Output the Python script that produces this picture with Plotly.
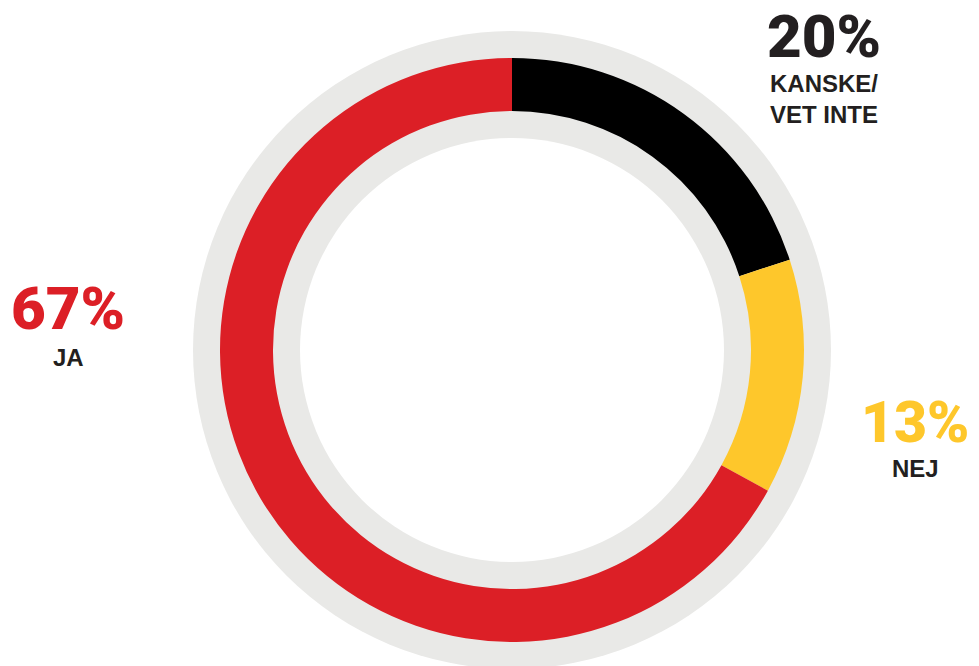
import plotly.graph_objects as go

# Survey answers, clockwise from 12 o'clock
labels = ["KANSKE/<br>VET INTE", "NEJ", "JA"]
values = [20, 13, 67]
colors = ["#000000", "#FEC72B", "#DC1F26"]
value_colors = ["#231F20", "#FEC72B", "#DC1F26"]

W, H = 979, 666
CX, CY = 512, 350          # ring centre in pixels
R_OUT, R_IN = 292, 239     # coloured ring
G_OUT, G_IN = 319, 212     # grey backing ring


def px(x):
    return x / W


def py(y):
    return 1 - y / H


fig = go.Figure()

fig.add_trace(go.Pie(
    labels=labels,
    values=values,
    marker=dict(colors=colors, line=dict(width=0)),
    sort=False,
    direction="clockwise",
    rotation=0,
    hole=R_IN / R_OUT,
    textinfo="none",
    hoverinfo="label+percent",
    showlegend=False,
    domain=dict(x=[px(CX - R_OUT), px(CX + R_OUT)],
                y=[py(CY + R_OUT), py(CY - R_OUT)]),
))

shapes = [
    dict(type="circle", xref="paper", yref="paper", layer="below",
         x0=px(CX - G_OUT), x1=px(CX + G_OUT), y0=py(CY + G_OUT), y1=py(CY - G_OUT),
         fillcolor="#E9E9E7", line=dict(width=0)),
    dict(type="circle", xref="paper", yref="paper", layer="below",
         x0=px(CX - G_IN), x1=px(CX + G_IN), y0=py(CY + G_IN), y1=py(CY - G_IN),
         fillcolor="#FFFFFF", line=dict(width=0)),
]

# label blocks: centre x, middle of percentage, middle of category text,
# percentage font size (pixels)
label_pos = {
    "KANSKE/<br>VET INTE": (824, 36, 99, 60),
    "NEJ": (915, 423, 468, 57),
    "JA": (68, 309, 357, 60),
}

PCT_FONT = "Roboto, Liberation Sans, Arial, sans-serif"
LAB_FONT = "Liberation Sans, Arial, sans-serif"
annotations = []
for lab, val, vcol in zip(labels, values, value_colors):
    x, y_pct, y_lab, size = label_pos[lab]
    annotations.append(dict(
        text=f"{val}%", x=px(x), y=py(y_pct), xref="paper", yref="paper",
        xanchor="center", yanchor="middle", showarrow=False,
        font=dict(family=PCT_FONT, size=size, color=vcol, weight=900),
    ))
    annotations.append(dict(
        text=lab, x=px(x), y=py(y_lab), xref="paper", yref="paper",
        xanchor="center", yanchor="middle", showarrow=False, align="center",
        font=dict(family=LAB_FONT, size=24, color="#231F20", weight="bold"),
    ))

fig.update_layout(
    width=W, height=H,
    margin=dict(l=0, r=0, t=0, b=0),
    paper_bgcolor="#FFFFFF",
    plot_bgcolor="#FFFFFF",
    shapes=shapes,
    annotations=annotations,
    showlegend=False,
)

fig.write_html("out.html")
